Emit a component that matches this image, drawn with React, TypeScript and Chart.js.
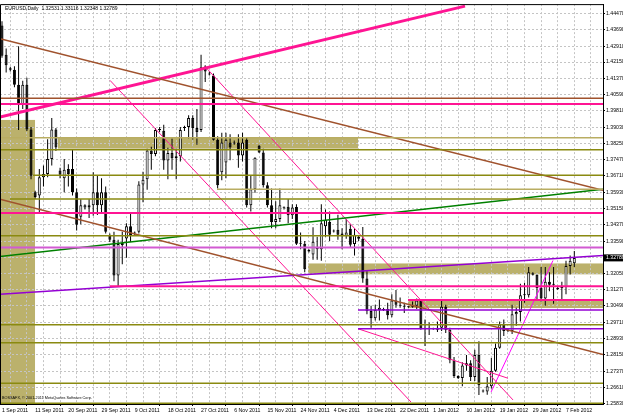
import React, { useEffect, useRef } from "react";
import { Chart, registerables } from "chart.js";

Chart.register(...registerables);

// ---------- data ----------
const dateLabels = [
  "1 Sep 2011", "11 Sep 2011", "20 Sep 2011", "29 Sep 2011", "9 Oct 2011", "18 Oct 2011",
  "27 Oct 2011", "6 Nov 2011", "15 Nov 2011", "24 Nov 2011", "4 Dec 2011", "13 Dec 2011",
  "22 Dec 2011", "1 Jan 2012", "10 Jan 2012", "19 Jan 2012", "29 Jan 2012", "7 Feb 2012",
];

const priceTicks = [
  1.4447, 1.4369, 1.4291, 1.4215, 1.4137, 1.4059, 1.3981, 1.3903, 1.3825, 1.3747, 1.3671,
  1.3593, 1.3515, 1.3437, 1.3359, 1.3281, 1.3205, 1.3127, 1.3049, 1.2971, 1.2893, 1.2815,
  1.2737, 1.2661, 1.2583,
];
const priceTickLabels = [
  "1.44470", "1.43690", "1.42910", "1.42150", "1.41370", "1.40590", "1.39810", "1.39030",
  "1.38250", "1.37470", "1.36710", "1.35930", "1.35150", "1.34370", "1.33590", "",
  "1.32050", "1.31270", "1.30490", "1.29710", "1.28930", "1.28150", "1.27370", "1.26610",
  "1.25830",
];

const opens = [
  1.4390, 1.4250, 1.4185, 1.4178, 1.4106, 1.4011, 1.4106, 1.3893, 1.3593, 1.3577,
  1.3664, 1.3680, 1.3751, 1.3893, 1.3696, 1.3660, 1.3704, 1.3704, 1.3593, 1.3475,
  1.3520, 1.3530, 1.3531, 1.3593, 1.3531, 1.3593, 1.3385, 1.3366, 1.3195, 1.3340,
  1.3371, 1.3430, 1.3395, 1.3404, 1.3630, 1.3655, 1.3792, 1.3775, 1.3895, 1.3886,
  1.3744, 1.3780, 1.3755, 1.3765, 1.3900, 1.3905, 1.3948, 1.3900, 1.3890, 1.4193,
  1.4160, 1.4151, 1.3844, 1.3688, 1.3735, 1.3830, 1.3830, 1.3830, 1.3768, 1.3844,
  1.3531, 1.3607, 1.3815, 1.3782, 1.3626, 1.3531, 1.3451, 1.3465, 1.3520, 1.3523,
  1.3483, 1.3522, 1.3347, 1.3347, 1.3318, 1.3295, 1.3330, 1.3320, 1.3430, 1.3451,
  1.3405, 1.3413, 1.3395, 1.3385, 1.3418, 1.3345, 1.3380, 1.3370, 1.3180, 1.3025,
  1.2990, 1.3030, 1.3035, 1.3035, 1.3005, 1.3075, 1.3055, 1.3050, 1.3045, 1.3045,
  1.3050, 1.3075, 1.2940, 1.2945, 1.2940, 1.2935, 1.2945, 1.3045, 1.2935, 1.2790,
  1.2715, 1.2705, 1.2765, 1.2775, 1.2710, 1.2815, 1.2645, 1.2640, 1.2665, 1.2740,
  1.2850, 1.2960, 1.2935, 1.2930, 1.3010, 1.3020, 1.3100, 1.3100, 1.3205, 1.3198,
  1.3135, 1.3085, 1.3165, 1.3150, 1.3130, 1.3135, 1.3140, 1.3240, 1.32531,
];
const highs = [
  1.4410, 1.4280, 1.4192, 1.4195, 1.4290, 1.4125, 1.4140, 1.3905, 1.3600, 1.3704,
  1.3720, 1.3846, 1.3948, 1.3900, 1.3710, 1.3751, 1.3727, 1.3798, 1.3610, 1.3560,
  1.3535, 1.3560, 1.3688, 1.3672, 1.3660, 1.3620, 1.3395, 1.3404, 1.3365, 1.3404,
  1.3445, 1.3490, 1.3405, 1.3645, 1.3690, 1.3800, 1.3810, 1.3900, 1.3905, 1.3915,
  1.3805, 1.3850, 1.3800, 1.3905, 1.3910, 1.3960, 1.3960, 1.3990, 1.4250, 1.4200,
  1.4170, 1.4160, 1.3860, 1.3877, 1.3877, 1.3870, 1.3840, 1.3870, 1.3877, 1.3855,
  1.3670, 1.3760, 1.3820, 1.3800, 1.3640, 1.3610, 1.3550, 1.3610, 1.3525, 1.3560,
  1.3535, 1.3535, 1.3400, 1.3360, 1.3320, 1.3425, 1.3380, 1.3535, 1.3510, 1.3500,
  1.3415, 1.3485, 1.3420, 1.3465, 1.3440, 1.3420, 1.3385, 1.3427, 1.3215, 1.3050,
  1.3055, 1.3080, 1.3040, 1.3065, 1.3105, 1.3125, 1.3090, 1.3065, 1.3048, 1.3070,
  1.3085, 1.3080, 1.2985, 1.2970, 1.2945, 1.2975, 1.3078, 1.3055, 1.2945, 1.2805,
  1.2718, 1.2780, 1.2815, 1.2790, 1.2840, 1.2880, 1.2650, 1.2710, 1.2800, 1.2870,
  1.2975, 1.2985, 1.2940, 1.3055, 1.3040, 1.3155, 1.3160, 1.3235, 1.3210, 1.3200,
  1.3235, 1.3235, 1.3210, 1.3235, 1.3140, 1.3165, 1.3265, 1.3290, 1.33116,
];
const lows = [
  1.4235, 1.4165, 1.4170, 1.4095, 1.3890, 1.3990, 1.3885, 1.3655, 1.3560, 1.3495,
  1.3620, 1.3664, 1.3720, 1.3790, 1.3660, 1.3593, 1.3620, 1.3577, 1.3410, 1.3440,
  1.3510, 1.3470, 1.3480, 1.3484, 1.3498, 1.3395, 1.3355, 1.3167, 1.3145, 1.3248,
  1.3280, 1.3355, 1.3385, 1.3395, 1.3545, 1.3605, 1.3700, 1.3765, 1.3880, 1.3700,
  1.3655, 1.3700, 1.3655, 1.3740, 1.3885, 1.3850, 1.3845, 1.3820, 1.3880, 1.4120,
  1.4150, 1.3840, 1.3610, 1.3650, 1.3660, 1.3745, 1.3820, 1.3710, 1.3740, 1.3520,
  1.3500, 1.3590, 1.3780, 1.3615, 1.3520, 1.3420, 1.3420, 1.3450, 1.3510, 1.3445,
  1.3465, 1.3340, 1.3320, 1.3210, 1.3305, 1.3270, 1.3270, 1.3265, 1.3380, 1.3360,
  1.3400, 1.3365, 1.3320, 1.3370, 1.3330, 1.3290, 1.3360, 1.3160, 1.3010, 1.2945,
  1.2980, 1.2980, 1.3025, 1.2985, 1.2995, 1.3040, 1.3040, 1.3015, 1.3040, 1.3040,
  1.3035, 1.2935, 1.2858, 1.2910, 1.2935, 1.2925, 1.2930, 1.2920, 1.2775, 1.2705,
  1.2700, 1.2665, 1.2740, 1.2690, 1.2690, 1.2624, 1.2635, 1.2625, 1.2655, 1.2735,
  1.2845, 1.2905, 1.2925, 1.2915, 1.2955, 1.2975, 1.3065, 1.3090, 1.3195, 1.3080,
  1.3070, 1.3050, 1.3120, 1.3060, 1.3125, 1.3075, 1.3105, 1.3200, 1.32348,
];
const closes = [
  1.4245, 1.4200, 1.4178, 1.4106, 1.4011, 1.4106, 1.3893, 1.3672, 1.3570, 1.3664,
  1.3680, 1.3751, 1.3893, 1.3806, 1.3676, 1.3700, 1.3680, 1.3593, 1.3437, 1.3530,
  1.3530, 1.3520, 1.3593, 1.3531, 1.3593, 1.3404, 1.3366, 1.3195, 1.3345, 1.3350,
  1.3430, 1.3385, 1.3400, 1.3630, 1.3652, 1.3792, 1.3775, 1.3890, 1.3890, 1.3744,
  1.3780, 1.3755, 1.3765, 1.3890, 1.3905, 1.3948, 1.3900, 1.3880, 1.4190, 1.4170,
  1.4155, 1.3844, 1.3626, 1.3830, 1.3844, 1.3806, 1.3825, 1.3768, 1.3830, 1.3531,
  1.3607, 1.3758, 1.3782, 1.3626, 1.3531, 1.3451, 1.3465, 1.3531, 1.3518, 1.3483,
  1.3520, 1.3347, 1.3350, 1.3224, 1.3310, 1.3356, 1.3320, 1.3445, 1.3460, 1.3390,
  1.3410, 1.3390, 1.3385, 1.3400, 1.3342, 1.3390, 1.3370, 1.3180, 1.3025, 1.2990,
  1.3030, 1.3040, 1.3030, 1.3005, 1.3075, 1.3055, 1.3050, 1.3045, 1.3043, 1.3050,
  1.3075, 1.2940, 1.2945, 1.2940, 1.2938, 1.2945, 1.3045, 1.2935, 1.2790, 1.2715,
  1.2705, 1.2765, 1.2775, 1.2710, 1.2815, 1.2670, 1.2640, 1.2665, 1.2740, 1.2850,
  1.2960, 1.2930, 1.2930, 1.3010, 1.3020, 1.3100, 1.3100, 1.3210, 1.3198, 1.3135,
  1.3085, 1.3165, 1.3150, 1.3155, 1.3135, 1.3140, 1.3240, 1.3265, 1.32789,
];

// horizontal levels: [price, fromBar]
const oliveLevels = [
  [1.37963, -1], [1.36733, 7.48], [1.35598, 1.93], [1.33848, -1],
  [1.2959, -1], [1.28739, -1], [1.26799, -1], [1.2584, -1],
];
const khakiLevels = [[1.38531, -1], [1.36071, 51.85]];
const brownLevels = [[1.40423, -1]];
const pinkLevels = [[1.40139, -1], [1.34935, -1], [1.31435, 26.04], [1.30773, 97.9]];
const orchidLevels = [[1.3328, -1]];
const violetLevels = [[1.303, 85.85], [1.29401, 85.85]];

// trend lines: [bar1, price1, bar2, price2]
const brownTrends = [
  [-0.48, 1.43261, 144.92, 1.36024],
  [-0.48, 1.35598, 144.92, 1.28171],
];
const greenTrends = [[-0.48, 1.32854, 144.92, 1.36071]];
const purpleTrends = [[-0.48, 1.31057, 144.92, 1.32901]];
const pinkThickTrends = [[-0.48, 1.39524, 111.65, 1.44822]];
const pinkThinTrends = [
  [48.95, 1.41936, 123.22, 1.26],
  [26.04, 1.41274, 98.63, 1.259],
  [85.85, 1.29401, 122.02, 1.27036],
];
const magentaTrends = [[117.92, 1.26374, 132.87, 1.32665]];

// rectangles: [bar1, bar2, priceLow, priceHigh]
const boxes = [
  [-0.48, 7.96, 1.25806, 1.39382],
  [13.5, 85.85, 1.3801, 1.38531],
  [73.79, 146, 1.32003, 1.32523],
  [97.9, 146, 1.30394, 1.3082],
];

const headerText = "EURUSD,Daily  1.32531 1.33116 1.32348 1.32789";
const copyrightText = "BOSSAFX, \u00A9 2001-2011 MetaQuotes Software Corp.";

// ---------- config ----------
const X_MIN = -0.482;
const X_MAX = 144.92;
const Y_MIN = 1.25806;
const Y_MAX = 1.44917;
const LINE_END = 146;
const FONT = "'Liberation Sans', Arial, sans-serif";

const gridBars = Array.from({ length: 37 }, (_, k) => k * 4);

function levelDs(list: number[][], color: string, width: number) {
  return list.map(([p, from]) => ({
    type: "line",
    data: [{ x: from, y: p }, { x: LINE_END, y: p }],
    borderColor: color,
    borderWidth: width,
    pointRadius: 0,
    fill: false,
    tension: 0,
    order: 1,
    clip: 0,
  }));
}
function trendDs(list: number[][], color: string, width: number) {
  return list.map(([x1, p1, x2, p2]) => ({
    type: "line",
    data: [{ x: x1, y: p1 }, { x: x2, y: p2 }],
    borderColor: color,
    borderWidth: width,
    pointRadius: 0,
    fill: false,
    tension: 0,
    order: 1,
    clip: 0,
  }));
}

const overlayPlugin = {
  id: "mtOverlay",
  beforeDraw(chart: any) {
    const { ctx, chartArea, scales } = chart;
    const xs = scales.x;
    const ys = scales.y;
    ctx.save();
    ctx.beginPath();
    ctx.rect(chartArea.left, chartArea.top, chartArea.right - chartArea.left, chartArea.bottom - chartArea.top);
    ctx.clip();
    ctx.fillStyle = "#bbb16c";
    for (const [b1, b2, pl, ph] of boxes) {
      const l = xs.getPixelForValue(b1);
      const r = xs.getPixelForValue(b2);
      const t = ys.getPixelForValue(ph);
      const b = ys.getPixelForValue(pl);
      ctx.fillRect(l, t, r - l, b - t);
    }
    ctx.restore();
  },
  afterDraw(chart: any) {
    const { ctx, chartArea, scales } = chart;
    const ys = scales.y;
    ctx.save();
    // frame
    ctx.strokeStyle = "#000";
    ctx.lineWidth = 1;
    ctx.beginPath();
    ctx.moveTo(chartArea.left + 0.5, chartArea.bottom);
    ctx.lineTo(chartArea.left + 0.5, chartArea.top + 0.5);
    ctx.lineTo(chartArea.right, chartArea.top + 0.5);
    ctx.stroke();
    // header
    ctx.fillStyle = "#000";
    ctx.textBaseline = "middle";
    ctx.textAlign = "left";
    ctx.font = `5px ${FONT}`;
    ctx.fillText(headerText, chartArea.left + 5, chartArea.top + 5);
    // copyright
    ctx.font = `3.8px ${FONT}`;
    ctx.fillText(copyrightText, chartArea.left + 2, chartArea.bottom - 6);
    // current price box
    const last = closes[closes.length - 1];
    const py = ys.getPixelForValue(last);
    ctx.fillStyle = "#000";
    ctx.fillRect(chartArea.right, py - 3.5, 30, 7);
    ctx.fillStyle = "#fff";
    ctx.font = `5.2px ${FONT}`;
    ctx.fillText(last.toFixed(5), chartArea.right + 3, py);
    ctx.restore();
  },
};

export default function App() {
  const ref = useRef<HTMLCanvasElement>(null);

  useEffect(() => {
    document.body.style.margin = "0";
    const canvas = ref.current;
    if (!canvas) return;

    const idx = opens.map((_, i) => i);
    const wickDs = {
      type: "bar",
      data: idx.map((i) => ({ x: i, y: [lows[i], highs[i]] })),
      backgroundColor: "#000",
      borderWidth: 0,
      barThickness: 1,
      grouped: false,
      inflateAmount: 0,
      order: 6,
    };
    const bodyDs = {
      type: "bar",
      data: idx.map((i) => ({ x: i, y: [opens[i], closes[i]] })),
      backgroundColor: idx.map((i) => (closes[i] >= opens[i] ? "#ffffff" : "#000000")),
      borderColor: "#000",
      borderWidth: 1,
      borderSkipped: false,
      barThickness: 3,
      minBarLength: 1,
      grouped: false,
      inflateAmount: 0,
      order: 5,
    };

    const datasets: any[] = [
      wickDs,
      bodyDs,
      ...levelDs(oliveLevels, "#8a8a10", 1.5),
      ...levelDs(khakiLevels, "#b9ad62", 1.5),
      ...levelDs(brownLevels, "#a0522d", 1.5),
      ...levelDs(pinkLevels, "#ff1493", 2),
      ...levelDs(orchidLevels, "#d25ad2", 2),
      ...levelDs(violetLevels, "#9400d3", 1.5),
      ...trendDs(brownTrends, "#a0522d", 1.5),
      ...trendDs(greenTrends, "#008000", 1.5),
      ...trendDs(purpleTrends, "#9400d3", 1.5),
      ...trendDs(pinkThickTrends, "#ff1493", 3),
      ...trendDs(pinkThinTrends, "#ff1493", 1),
      ...trendDs(magentaTrends, "#ff00ff", 1),
    ];

    const chart = new Chart(canvas, {
      type: "bar",
      data: { datasets },
      plugins: [overlayPlugin],
      options: {
        responsive: false,
        maintainAspectRatio: false,
        animation: false,
        events: [],
        layout: { padding: 0 },
        plugins: {
          legend: { display: false },
          tooltip: { enabled: false },
          title: { display: false },
        },
        scales: {
          x: {
            type: "linear",
            position: "bottom",
            min: X_MIN,
            max: X_MAX,
            offset: false,
            bounds: "data",
            afterBuildTicks: (s: any) => {
              s.ticks = gridBars.map((v) => ({ value: v }));
            },
            afterFit: (s: any) => {
              s.height = 12;
            },
            ticks: {
              autoSkip: false,
              maxRotation: 0,
              minRotation: 0,
              align: "start",
              padding: 1,
              color: "#000",
              font: { family: FONT, size: 5.2 },
              callback: (v: any) => (Number(v) % 8 === 0 ? dateLabels[Number(v) / 8] : ""),
            },
            grid: {
              color: "#c4c4c4",
              lineWidth: 1,
              drawTicks: true,
              tickLength: 2,
              tickColor: (c: any) => (c.tick && c.tick.value % 8 === 0 ? "#000" : "rgba(0,0,0,0)"),
            },
            border: { display: true, color: "#000", width: 1, dash: [2, 2] },
          },
          y: {
            type: "linear",
            position: "right",
            min: Y_MIN,
            max: Y_MAX,
            bounds: "data",
            afterBuildTicks: (s: any) => {
              s.ticks = priceTicks.map((v) => ({ value: v }));
            },
            afterFit: (s: any) => {
              s.width = 20;
            },
            ticks: {
              autoSkip: false,
              padding: 1,
              color: "#000",
              font: { family: FONT, size: 5.2 },
              callback: (_v: any, i: number) => priceTickLabels[i],
            },
            grid: {
              color: "#c4c4c4",
              lineWidth: 1,
              drawTicks: true,
              tickLength: 2,
              tickColor: "#000",
            },
            border: { display: true, color: "#000", width: 1, dash: [2, 2] },
          },
        },
      } as any,
    } as any);

    return () => chart.destroy();
  }, []);

  return (
    <canvas
      ref={ref}
      width={623}
      height={416}
      style={{ display: "block", width: "623px", height: "416px" }}
    />
  );
}
